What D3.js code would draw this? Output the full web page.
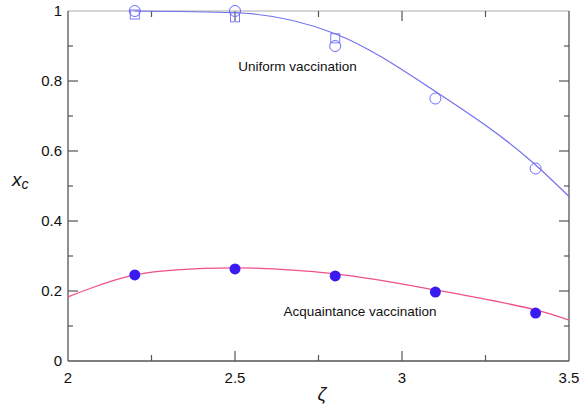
<!DOCTYPE html>
<html>
<head>
<meta charset="utf-8">
<script src="https://cdn.jsdelivr.net/npm/d3@7"></script>
<style>
  body { margin: 0; background: #fff; }
  text { font-family: Arial, "Liberation Sans", sans-serif; }
</style>
</head>
<body>
<div id="chart"></div>
<script>
// data
var zeta = [2.2, 2.5, 2.8, 3.1, 3.4];
var uniformCircles = [1.0, 1.0, 0.9, 0.75, 0.55];
var uniformSquares = [0.99, 0.982, 0.922];
var acquaintance = [0.246, 0.263, 0.243, 0.197, 0.137];

var curveZeta = [2.2, 2.5, 2.8, 3.1, 3.4, 3.5];
var uniformFit = [1.0, 0.995, 0.935, 0.77, 0.56, 0.47];
var acqZeta = [2.0, 2.2, 2.5, 2.8, 3.1, 3.4, 3.5];
var acqFit = [0.183, 0.246, 0.266, 0.249, 0.203, 0.146, 0.117];

var xTicks = [2, 2.5, 3, 3.5];
var xMinor = [2.25, 2.75, 3.25];
var yTicks = [0, 0.2, 0.4, 0.6, 0.8, 1];
var yMinor = [0.1, 0.3, 0.5, 0.7, 0.9];

var svgWidth = 579, svgHeight = 411;
var margin = { top: 11, right: 10, bottom: 50, left: 68 };
var width = svgWidth - margin.left - margin.right;
var height = svgHeight - margin.top - margin.bottom;

var svg = d3.select("#chart").append("svg")
  .attr("width", svgWidth)
  .attr("height", svgHeight);

var g = svg.append("g")
  .attr("transform", `translate(${margin.left}, ${margin.top})`);

var x = d3.scaleLinear().domain([2, 3.5]).range([0, width]);
var y = d3.scaleLinear().domain([0, 1]).range([height, 0]);

// frame
var axisColor = "#555";
g.append("line").attr("x1", 0).attr("x2", width).attr("y1", 0).attr("y2", 0)
  .attr("stroke", "#aaa").attr("stroke-width", 1);
g.append("line").attr("x1", 0).attr("x2", width).attr("y1", height).attr("y2", height)
  .attr("stroke", axisColor).attr("stroke-width", 1.3);
g.append("line").attr("x1", 0).attr("x2", 0).attr("y1", 0).attr("y2", height)
  .attr("stroke", axisColor).attr("stroke-width", 1.3);
g.append("line").attr("x1", width).attr("x2", width).attr("y1", 0).attr("y2", height)
  .attr("stroke", axisColor).attr("stroke-width", 1.3);

// ticks (inward)
function tickLines(vals, len, side) {
  vals.forEach(v => {
    if (side === "bottom") {
      g.append("line").attr("x1", x(v)).attr("x2", x(v)).attr("y1", height).attr("y2", height - len);
    } else if (side === "top") {
      g.append("line").attr("x1", x(v)).attr("x2", x(v)).attr("y1", 0).attr("y2", len);
    } else if (side === "left") {
      g.append("line").attr("x1", 0).attr("x2", len).attr("y1", y(v)).attr("y2", y(v));
    } else {
      g.append("line").attr("x1", width).attr("x2", width - len).attr("y1", y(v)).attr("y2", y(v));
    }
  });
}
tickLines(xTicks.slice(1, 3), 10, "bottom");
tickLines(xMinor, 6, "bottom");
tickLines(xTicks.slice(1, 3), 10, "top");
tickLines(xMinor, 6, "top");
tickLines(yTicks.slice(1, 5), 10, "left");
tickLines(yMinor, 5, "left");
tickLines(yTicks.slice(1, 5), 10, "right");
tickLines(yMinor, 5, "right");
g.selectAll("line").filter(function() { return !d3.select(this).attr("stroke"); })
  .attr("stroke", axisColor).attr("stroke-width", 1.2);

// tick labels
g.selectAll(".xlab").data(xTicks).join("text")
  .attr("x", d => x(d)).attr("y", height + 22)
  .attr("text-anchor", "middle").attr("font-size", 15).attr("fill", "#111")
  .text(d => d3.format("")(d));
g.selectAll(".ylab").data(yTicks).join("text")
  .attr("x", -6).attr("y", d => y(d) + 5)
  .attr("text-anchor", "end").attr("font-size", 15).attr("fill", "#111")
  .text(d => d);

// fits
var line = d3.line().curve(d3.curveMonotoneX);
g.append("path")
  .attr("d", line(curveZeta.map((z, i) => [x(z), y(uniformFit[i])])))
  .attr("fill", "none").attr("stroke", "#7070f0").attr("stroke-width", 1.2);
g.append("path")
  .attr("d", d3.line().curve(d3.curveCatmullRom.alpha(0.5))(acqZeta.map((z, i) => [x(z), y(acqFit[i])])))
  .attr("fill", "none").attr("stroke", "#f0508a").attr("stroke-width", 1.3);

// uniform markers
g.selectAll(".sq").data(uniformSquares).join("rect")
  .attr("x", (d, i) => x(zeta[i]) - 4.5).attr("y", d => y(d) - 4.5)
  .attr("width", 9).attr("height", 9)
  .attr("fill", "none").attr("stroke", "#7b7bff").attr("stroke-width", 1);
g.selectAll(".oc").data(uniformCircles).join("circle")
  .attr("cx", (d, i) => x(zeta[i])).attr("cy", d => y(d)).attr("r", 5.5)
  .attr("fill", "none").attr("stroke", "#6a6aff").attr("stroke-width", 1);

// acquaintance markers
g.selectAll(".fc").data(acquaintance).join("circle")
  .attr("cx", (d, i) => x(zeta[i])).attr("cy", d => y(d)).attr("r", 5.5)
  .attr("fill", "#3a1af0");

// annotations
g.append("text").attr("x", x(2.51)).attr("y", y(0.83))
  .attr("font-size", 13.5).attr("fill", "#111").text("Uniform vaccination");
g.append("text").attr("x", x(2.645)).attr("y", y(0.13))
  .attr("font-size", 13.5).attr("fill", "#111").text("Acquaintance vaccination");

// axis titles
svg.append("text").attr("x", 12).attr("y", 186)
  .attr("font-family", "DejaVu Serif, serif").attr("font-style", "italic")
  .attr("font-size", 19).attr("fill", "#111").text("x")
  .append("tspan").attr("font-size", 14).attr("dy", 3).text("c");
svg.append("text").attr("x", margin.left + x(2.76)).attr("y", 400)
  .attr("text-anchor", "middle")
  .attr("font-family", "DejaVu Serif, serif").attr("font-style", "italic")
  .attr("font-size", 19).attr("fill", "#111").text("ζ");
</script>
</body>
</html>
